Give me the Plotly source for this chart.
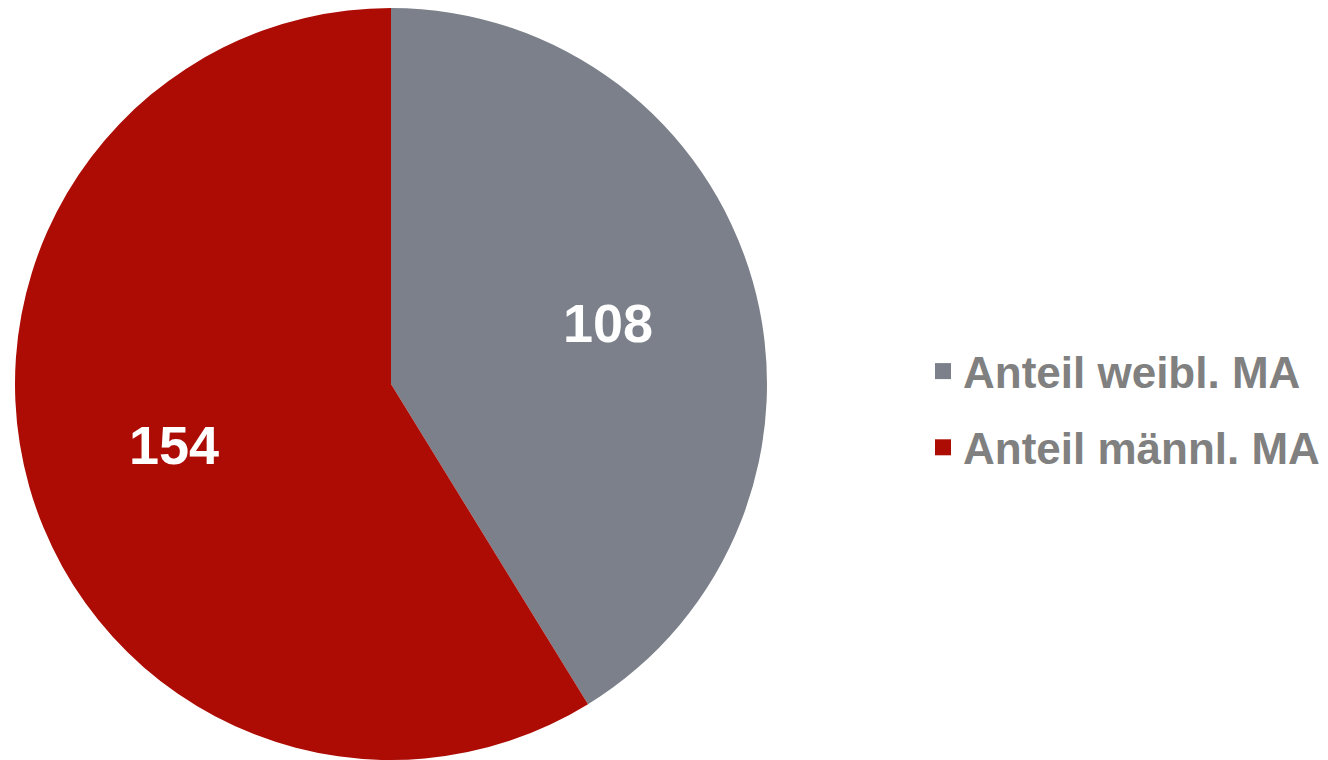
import math
import plotly.graph_objects as go

labels = ["Anteil weibl. MA", "Anteil männl. MA"]
values = [108, 154]
colors = ["#7B808A", "#AC0C04"]

W, H = 1328, 760
FONT = "Liberation Sans, Arial"

# pie placement in plot pixels
cx, cy, R = 383, 376, 376
fig = go.Figure()
fig.add_trace(go.Pie(
    labels=labels, values=values, sort=False, direction="clockwise", rotation=0,
    marker=dict(colors=colors, line=dict(width=0)),
    textinfo="none", showlegend=False,
    domain=dict(x=[(cx - R)/W, (cx + R)/W], y=[1 - (cy + R)/H, 1 - (cy - R)/H]),
    hoverinfo="label+value",
))

# value labels at the middle angle of each slice
total = sum(values)
start = 0.0
for v in values:
    mid = (start + v / 2) / total * 2 * math.pi
    start += v
    px = cx + 0.6 * R * math.sin(mid)
    py = cy - 0.6 * R * math.cos(mid)
    fig.add_annotation(x=px / W, y=1 - py / H, xref="paper", yref="paper",
                       xanchor="center", yanchor="middle",
                       text=str(v), showarrow=False,
                       font=dict(family=FONT, size=54, color="white", weight="bold"))

# legend entries
for lab, col in zip(labels, colors):
    fig.add_trace(go.Scatter(x=[None], y=[None], mode="markers", name=lab,
                             legendgroup=lab,
                             marker=dict(symbol="square", size=18, color=col)))

fig.update_layout(
    width=W, height=H, margin=dict(l=0, r=0, t=0, b=0),
    paper_bgcolor="white", plot_bgcolor="white",
    xaxis=dict(visible=False), yaxis=dict(visible=False),
    legend=dict(x=915/W, y=1 - 401.5/H, xanchor="left", yanchor="middle",
                tracegroupgap=16,
                font=dict(family=FONT, size=44, color="#808080", weight="bold")),
)
fig.write_html("out.html")
